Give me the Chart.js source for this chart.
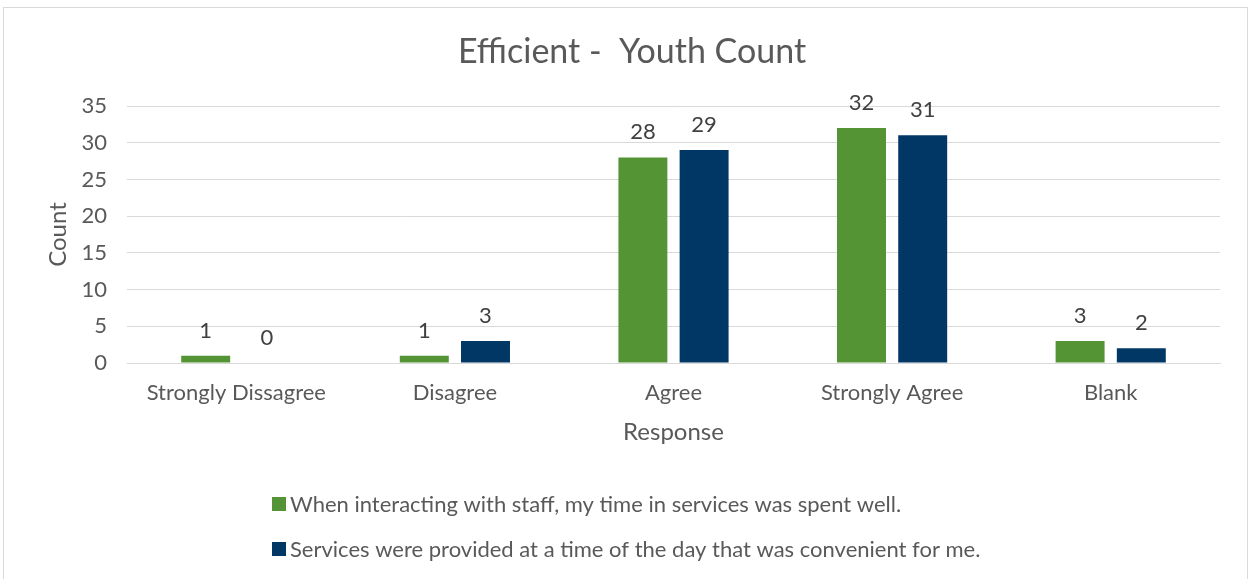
<!DOCTYPE html>
<html>
<head>
<meta charset="utf-8">
<style>
  html, body { margin: 0; padding: 0; background: #ffffff; }
  #wrap { position: relative; width: 1250px; height: 579px; }
</style>
<script src="https://cdn.jsdelivr.net/npm/chart.js@4/dist/chart.umd.min.js"></script>
</head>
<body>
<div id="wrap"><canvas id="chart" width="1250" height="579"></canvas></div>
<script>
// Survey responses for the "Efficient" items, youth respondents
const categories = ["Strongly Dissagree", "Disagree", "Agree", "Strongly Agree", "Blank"];
const timeSpentWell = [1, 1, 28, 32, 3];
const convenientTime = [0, 3, 29, 31, 2];
const seriesLabels = [
  "When interacting with staff, my time in services was spent well.",
  "Services were provided at a time of the day that was convenient for me."
];
const seriesColors = ["#559435", "#003764"];
const yTicks = [0, 5, 10, 15, 20, 25, 30, 35];

const FONT = "Lato, 'Open Sans', 'Liberation Sans', sans-serif";
const TEXT = "#595959";

// outer frame of the chart
const framePlugin = {
  id: "frame",
  beforeDraw(chart) {
    const ctx = chart.ctx;
    ctx.save();
    ctx.fillStyle = "#ffffff";
    ctx.fillRect(0, 0, chart.width, chart.height);
    ctx.strokeStyle = "#d9d9d9";
    ctx.lineWidth = 1;
    ctx.strokeRect(3.5, 7.5, 1244, 620);
    ctx.restore();
  }
};

// value labels above every bar
const valueLabelPlugin = {
  id: "valueLabels",
  afterDatasetsDraw(chart) {
    const ctx = chart.ctx;
    ctx.save();
    ctx.font = "22px " + FONT;
    ctx.fillStyle = "#404040";
    ctx.textAlign = "center";
    ctx.textBaseline = "middle";
    chart.data.datasets.forEach((ds, i) => {
      const meta = chart.getDatasetMeta(i);
      meta.data.forEach((bar, j) => {
        ctx.fillText(String(ds.data[j]), bar.x, bar.y - 25);
      });
    });
    ctx.restore();
  }
};

// stacked legend below the axis title
const stackedLegendPlugin = {
  id: "stackedLegend",
  afterDraw(chart) {
    const ctx = chart.ctx;
    const x0 = 272;
    const rows = [504, 549];
    ctx.save();
    ctx.font = "22px " + FONT;
    ctx.textAlign = "left";
    ctx.textBaseline = "middle";
    chart.data.datasets.forEach((ds, i) => {
      const y = rows[i];
      ctx.fillStyle = ds.backgroundColor;
      ctx.fillRect(x0, y - 7, 14, 14);
      ctx.fillStyle = TEXT;
      ctx.fillText(ds.label, x0 + 18, y + 1);
    });
    ctx.restore();
  }
};

new Chart(document.getElementById("chart"), {
  type: "bar",
  data: {
    labels: categories,
    datasets: [
      { label: seriesLabels[0], data: timeSpentWell, backgroundColor: seriesColors[0] },
      { label: seriesLabels[1], data: convenientTime, backgroundColor: seriesColors[1] }
    ]
  },
  options: {
    responsive: false,
    animation: false,
    layout: { padding: { left: 44, right: 30, top: 0, bottom: 129 } },
    datasets: { bar: { categoryPercentage: 0.56, barPercentage: 0.8 } },
    plugins: {
      legend: { display: false },
      tooltip: { enabled: false },
      title: {
        display: true,
        text: "Efficient -  Youth Count",
        color: TEXT,
        font: { family: FONT, size: 34, weight: "normal" },
        padding: { top: 31.6, bottom: 33.6 }
      }
    },
    scales: {
      x: {
        grid: { display: false, drawTicks: false },
        border: { display: true, color: "#d9d9d9", width: 1 },
        ticks: { color: TEXT, font: { family: FONT, size: 22 }, padding: 17, maxRotation: 0 },
        title: {
          display: true, text: "Response", color: TEXT,
          font: { family: FONT, size: 24 }, padding: { top: 4, bottom: 3 }
        },
        afterFit(scale) { scale.height = 87; }
      },
      y: {
        min: 0, max: 35,
        afterBuildTicks(scale) { scale.ticks = yTicks.map(v => ({ value: v })); },
        grid: { color: "#d9d9d9", lineWidth: 1, drawTicks: false },
        border: { display: false },
        ticks: { color: TEXT, font: { family: FONT, size: 22 }, padding: 20 },
        title: {
          display: true, text: "Count", color: TEXT,
          font: { family: FONT, size: 24 }, padding: { top: 0, bottom: 4 }
        },
        afterFit(scale) { scale.width = 83; }
      }
    }
  },
  plugins: [framePlugin, valueLabelPlugin, stackedLegendPlugin]
});
</script>
</body>
</html>
